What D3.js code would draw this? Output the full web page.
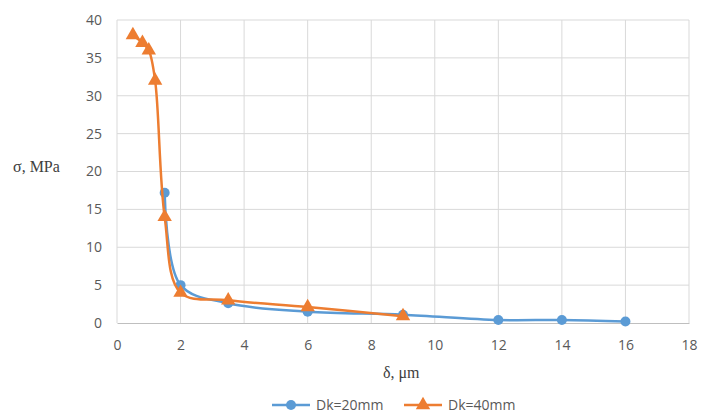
<!DOCTYPE html>
<html>
<head>
<meta charset="utf-8">
<script src="https://cdn.jsdelivr.net/npm/d3@7"></script>
<style>
  body { margin: 0; background: #fff; }
  svg { display: block; }
</style>
</head>
<body>
<svg id="chart" width="701" height="414"></svg>
<script>
// Dk=20mm series
const dk20X = [1.5, 2, 3.5, 6, 9, 12, 14, 16];
const dk20Y = [17.2, 5, 2.6, 1.5, 1.1, 0.4, 0.4, 0.2];
// Dk=40mm series
const dk40X = [0.5, 0.8, 1.0, 1.2, 1.5, 2, 3.5, 6, 9];
const dk40Y = [38, 37, 36, 32, 14, 4, 3, 2.1, 0.9];

const xTicks = [0, 2, 4, 6, 8, 10, 12, 14, 16, 18];
const yTicks = [0, 5, 10, 15, 20, 25, 30, 35, 40];

const series = [
  { name: 'Dk=20mm', xs: dk20X, ys: dk20Y, color: '#5B9BD5', marker: 'circle' },
  { name: 'Dk=40mm', xs: dk40X, ys: dk40Y, color: '#ED7D31', marker: 'triangle' }
];

const svg = d3.select('#chart');
const margin = { left: 117, right: 12, top: 20, bottom: 91 };
const W = 701, H = 414;

const x = d3.scaleLinear().domain([0, 18]).range([margin.left, W - margin.right]);
const y = d3.scaleLinear().domain([0, 40]).range([H - margin.bottom, margin.top]);

// ─── Grid ───
const grid = svg.append('g');
grid.selectAll('line.h')
  .data(yTicks.filter(d => d > 0))
  .join('line')
  .attr('x1', x(0)).attr('x2', x(18))
  .attr('y1', d => y(d)).attr('y2', d => y(d))
  .attr('stroke', '#d9d9d9').attr('stroke-width', 1);
grid.selectAll('line.v')
  .data(xTicks)
  .join('line')
  .attr('y1', y(0)).attr('y2', y(40))
  .attr('x1', d => x(d)).attr('x2', d => x(d))
  .attr('stroke', '#d9d9d9').attr('stroke-width', 1);

// ─── Axes ───
const xAxis = svg.append('g')
  .attr('transform', `translate(0,${y(0)})`)
  .call(d3.axisBottom(x).tickValues(xTicks).tickSize(0).tickPadding(17));
xAxis.select('.domain').attr('stroke', '#bfbfbf');

const yAxis = svg.append('g')
  .attr('transform', `translate(${x(0)},0)`)
  .call(d3.axisLeft(y).tickValues(yTicks).tickSize(0).tickPadding(15));
yAxis.select('.domain').remove();

svg.selectAll('.tick text')
  .attr('font-family', 'Open Sans, sans-serif')
  .attr('font-size', 14)
  .attr('fill', '#595959');

// ─── Axis titles ───
svg.append('text')
  .attr('x', 13).attr('y', y(20))
  .attr('font-family', 'Liberation Serif, serif')
  .attr('font-size', 16)
  .attr('fill', '#404040')
  .text('σ, MPa');

svg.append('text')
  .attr('x', 383).attr('y', 378)
  .attr('font-family', 'Liberation Serif, serif')
  .attr('font-size', 16)
  .attr('fill', '#404040')
  .text('δ, μm');

// ─── Lines + markers ───
const line = d3.line()
  .x(d => x(d[0]))
  .y(d => y(d[1]))
  .curve(d3.curveCatmullRom.alpha(0.5));

const tri = d3.symbol().type(d3.symbolTriangle).size(90);

series.forEach(s => {
  const pts = s.xs.map((v, i) => [v, s.ys[i]]);
  svg.append('path')
    .datum(pts)
    .attr('d', line)
    .attr('fill', 'none')
    .attr('stroke', s.color)
    .attr('stroke-width', 2.5);

  const g = svg.append('g');
  if (s.marker === 'circle') {
    g.selectAll('circle').data(pts).join('circle')
      .attr('cx', d => x(d[0])).attr('cy', d => y(d[1]))
      .attr('r', 5).attr('fill', s.color);
  } else {
    g.selectAll('path').data(pts).join('path')
      .attr('d', tri)
      .attr('transform', d => `translate(${x(d[0])},${y(d[1])})`)
      .attr('fill', s.color);
  }
});

// ─── Legend ───
const legend = svg.append('g').attr('transform', 'translate(0,405)');
const legendX = [272, 404];
series.forEach((s, i) => {
  const lx = legendX[i];
  legend.append('line')
    .attr('x1', lx).attr('x2', lx + 38)
    .attr('y1', 0).attr('y2', 0)
    .attr('stroke', s.color).attr('stroke-width', 2.5);
  if (s.marker === 'circle') {
    legend.append('circle').attr('cx', lx + 19).attr('cy', 0).attr('r', 5).attr('fill', s.color);
  } else {
    legend.append('path').attr('d', tri).attr('transform', `translate(${lx + 19},0)`).attr('fill', s.color);
  }
  legend.append('text')
    .attr('x', lx + 44).attr('y', 5)
    .attr('font-family', 'Open Sans, sans-serif')
    .attr('font-size', 14)
    .attr('fill', '#595959')
    .text(s.name);
});
</script>
</body>
</html>
